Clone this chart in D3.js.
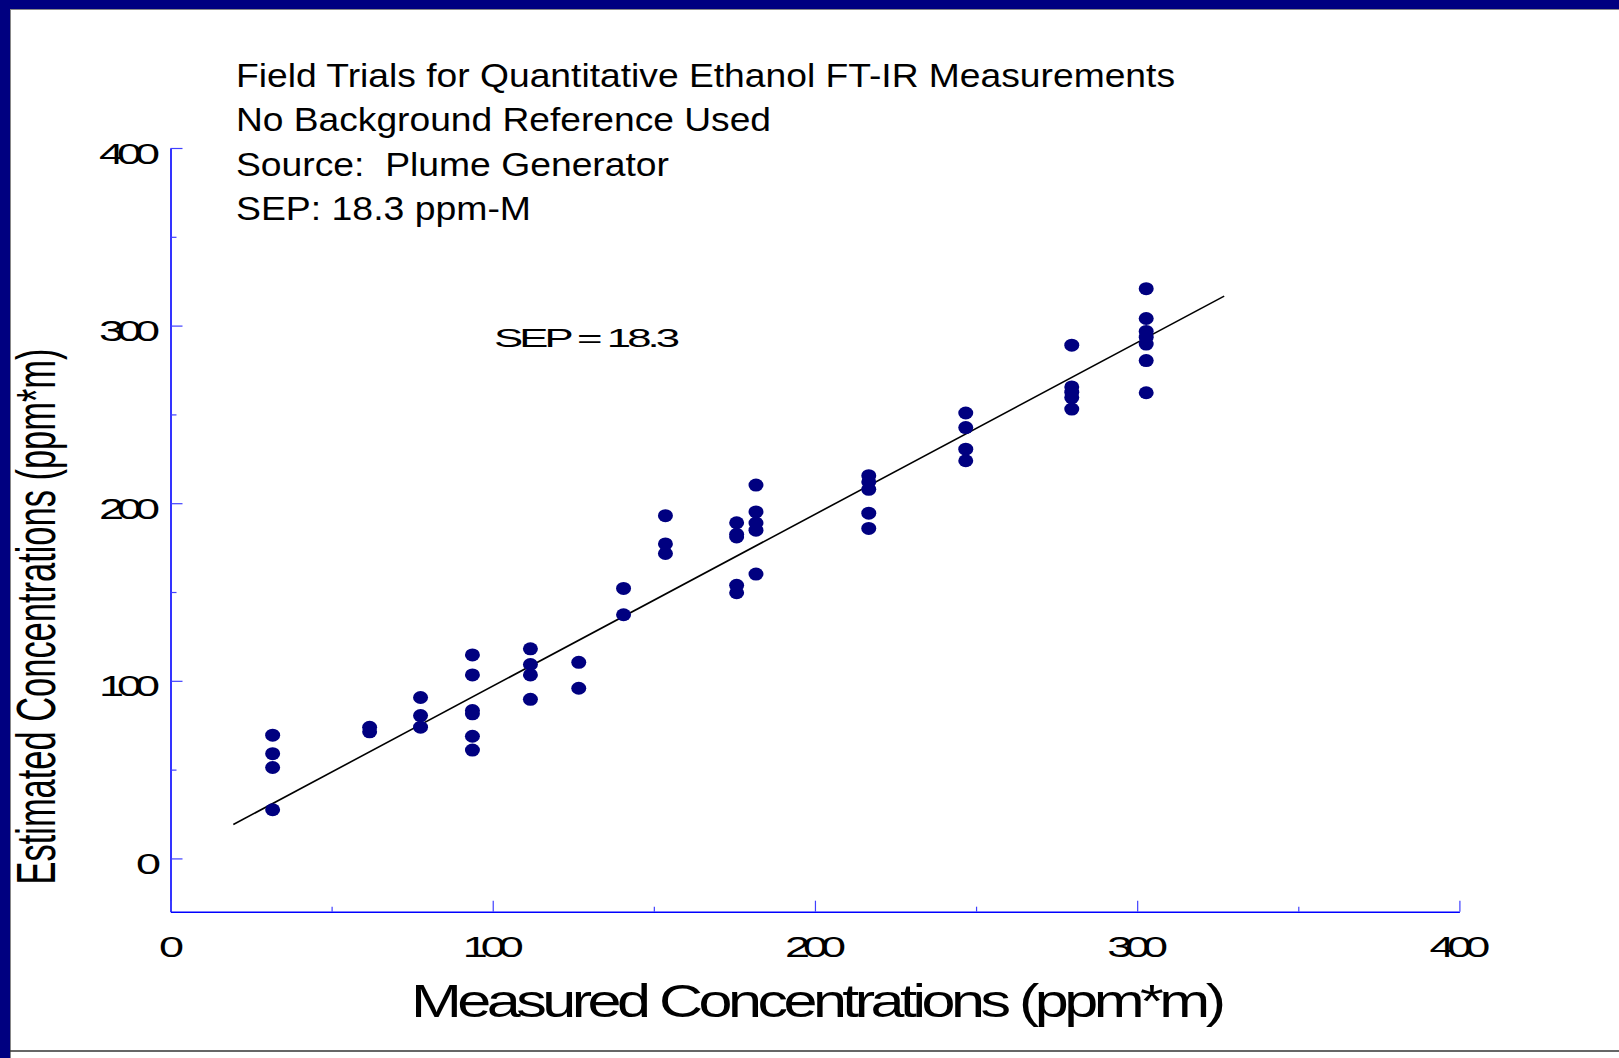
<!DOCTYPE html>
<html>
<head>
<meta charset="utf-8">
<script src="https://cdn.jsdelivr.net/npm/d3@7"></script>
<style>
  body { margin: 0; background: #fff; }
  svg { display: block; font-family: 'Liberation Sans', Arial, sans-serif; }
  text { white-space: pre; }
</style>
</head>
<body>
<svg id="chart" width="1619" height="1058"></svg>
<script>
// measured concentration (ppm*m) of each point and the estimate for it
const measured = [
  31.7, 31.7, 31.7, 31.7,
  61.8, 61.8,
  77.6, 77.6, 77.6,
  93.7, 93.7, 93.7, 93.7, 93.7, 93.7,
  111.7, 111.7, 111.7, 111.7,
  126.7, 126.7,
  140.6, 140.6,
  153.6, 153.6, 153.6,
  175.7, 175.7, 175.7, 175.7, 175.7,
  181.7, 181.7, 181.7, 181.7, 181.7,
  216.7, 216.7, 216.7, 216.7, 216.7,
  246.8, 246.8, 246.8, 246.8,
  279.7, 279.7, 279.7, 279.7, 279.7,
  302.8, 302.8, 302.8, 302.8, 302.8, 302.8, 302.8
];
const estimated = [
  69.4, 59.0, 51.2, 27.4,
  73.8, 71.3,
  90.6, 80.4, 73.9,
  114.6, 103.3, 83.3, 81.4, 68.8, 61.0,
  118.0, 109.2, 103.3, 89.6,
  110.4, 95.8,
  152.0, 137.2,
  193.0, 177.1, 171.7,
  189.0, 182.5, 181.0, 153.8, 149.6,
  210.2, 195.1, 188.8, 184.8, 160.1,
  215.5, 212.0, 207.8, 194.4, 185.8,
  250.8, 242.6, 230.4, 223.9,
  289.0, 265.5, 262.5, 259.5, 253.0,
  320.8, 304.0, 296.7, 293.5, 289.6, 280.3, 262.2
];

// regression line end points
const fitX = [19.5, 327.0];
const fitY = [19.1, 316.6];

const majorTicks = [0, 100, 200, 300, 400];
const minorTicks = [50, 150, 250, 350];

const titleLines = [
  'Field Trials for Quantitative Ethanol FT-IR Measurements',
  'No Background Reference Used',
  'Source:  Plume Generator',
  'SEP: 18.3 ppm-M'
];
const titleWidths = [939, 535, 433, 295];
const sepLabel = 'SEP = 18.3';
const xTitle = 'Measured Concentrations (ppm*m)';
const yTitle = 'Estimated Concentrations (ppm*m)';

const svg = d3.select('#chart');

// wide glyphs squeezed together, like the original export
function squeeze(sel, sx, width) {
  sel.each(function () {
    const t = d3.select(this);
    const L = this.getComputedTextLength();
    const n = this.textContent.length;
    t.attr('letter-spacing', n > 1 ? (width / sx - L) / (n - 1) : 0);
  });
}

// page frame
svg.append('rect').attr('x', 0).attr('y', 0).attr('width', 1619).attr('height', 1058).attr('fill', '#fff');
svg.append('rect').attr('x', 0).attr('y', 0).attr('width', 1619).attr('height', 9).attr('fill', '#000080');
svg.append('rect').attr('x', 0).attr('y', 0).attr('width', 10).attr('height', 1058).attr('fill', '#000080');
svg.append('path').attr('d', 'M10,9.5H1619M10.5,9.5V1058').attr('stroke', '#888').attr('fill', 'none');
svg.append('line').attr('x1', 10).attr('x2', 1619).attr('y1', 1051).attr('y2', 1051)
  .attr('stroke', '#333').attr('stroke-width', 1.5);

const x = d3.scaleLinear().domain([0, 400]).range([170.5, 1459.4]);
const y = d3.scaleLinear().domain([-30, 400]).range([911.7, 148]);

// axes
const yAxis = svg.append('g').attr('transform', 'translate(170.5,0)')
  .call(d3.axisLeft(y).tickValues(majorTicks).tickSizeInner(-12).tickSizeOuter(0).tickPadding(10));
svg.append('g').attr('transform', 'translate(170.5,0)')
  .call(d3.axisLeft(y).tickValues(minorTicks).tickSizeInner(-6).tickSizeOuter(0).tickFormat(''))
  .select('.domain').remove();

const xAxis = svg.append('g').attr('transform', 'translate(0,911.7)')
  .call(d3.axisBottom(x).tickValues(majorTicks).tickSizeInner(-11).tickSizeOuter(0).tickPadding(24));
svg.append('g').attr('transform', 'translate(0,911.7)')
  .call(d3.axisBottom(x).tickValues(minorTicks).tickSizeInner(-5).tickSizeOuter(0).tickFormat(''))
  .select('.domain').remove();

svg.selectAll('.domain').attr('stroke', '#0000ff').attr('stroke-width', 1.6);
svg.selectAll('.tick line').attr('stroke', '#4040ff').attr('stroke-width', 1.2);

const tickW = s => s.length === 1 ? 24 : 61;
svg.selectAll('.tick text')
  .attr('fill', '#000')
  .attr('font-size', 30)
  .attr('font-family', "'Liberation Sans', Arial, sans-serif")
  .attr('text-anchor', 'start');

yAxis.selectAll('.tick text').each(function () {
  squeeze(d3.select(this), 1.5, tickW(this.textContent));
  d3.select(this).attr('x', 0).attr('dy', '0.5em')
    .attr('transform', `translate(${-10.5 - tickW(this.textContent)},0) scale(1.5,1)`);
});
xAxis.selectAll('.tick text').each(function () {
  squeeze(d3.select(this), 1.5, tickW(this.textContent));
  d3.select(this).attr('x', 0)
    .attr('transform', `translate(${-tickW(this.textContent) / 2},0) scale(1.5,1)`);
});

// regression line
svg.append('line')
  .attr('x1', x(fitX[0])).attr('y1', y(fitY[0]))
  .attr('x2', x(fitX[1])).attr('y2', y(fitY[1]))
  .attr('stroke', '#000').attr('stroke-width', 1.6);

// points
svg.append('g').selectAll('ellipse')
  .data(measured)
  .join('ellipse')
  .attr('cx', d => x(d))
  .attr('cy', (d, i) => y(estimated[i]))
  .attr('rx', 7.5)
  .attr('ry', 6.5)
  .attr('fill', '#000080');

// title block
svg.append('g').selectAll('text')
  .data(titleLines)
  .join('text')
  .attr('x', 236)
  .attr('y', (d, i) => 87 + i * 44.4)
  .attr('font-size', 34)
  .attr('textLength', (d, i) => titleWidths[i])
  .attr('lengthAdjust', 'spacingAndGlyphs')
  .text(d => d);

svg.append('text')
  .attr('transform', 'translate(494,347) scale(1.75,1)')
  .attr('font-size', 25)
  .text(sepLabel)
  .call(squeeze, 1.75, 186);

// axis titles
svg.append('text')
  .attr('transform', 'translate(411,1017) scale(1.3,1)')
  .attr('font-size', 47)
  .text(xTitle)
  .call(squeeze, 1.3, 815);

svg.append('text')
  .attr('transform', 'translate(55,884.5) rotate(-90)')
  .attr('font-size', 56)
  .attr('textLength', 536)
  .attr('lengthAdjust', 'spacingAndGlyphs')
  .text(yTitle);
</script>
</body>
</html>
